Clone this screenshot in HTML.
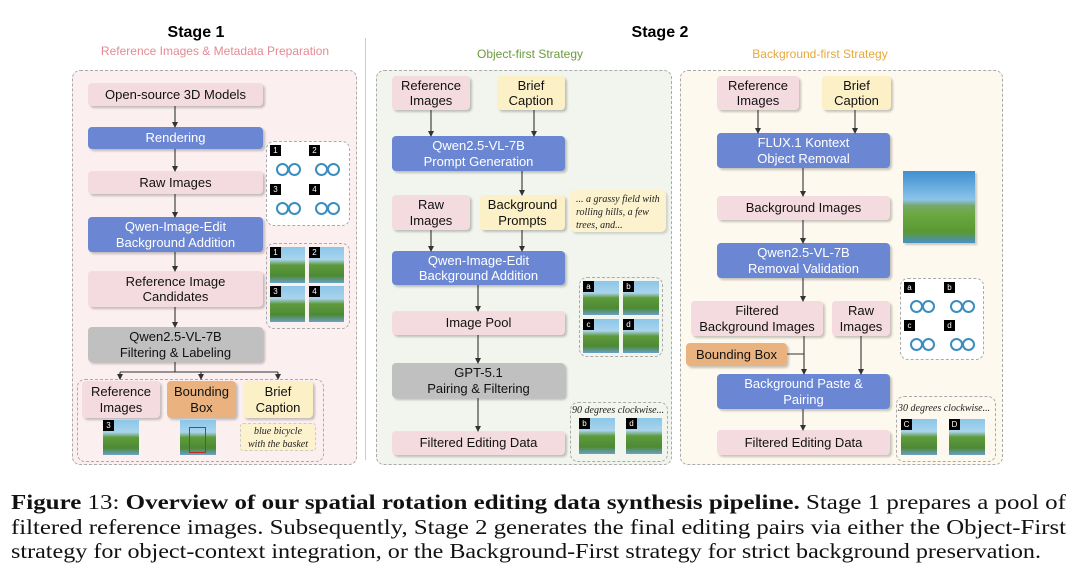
<!DOCTYPE html><html><head><meta charset="utf-8"><style>
body{margin:0;width:1080px;height:578px;background:#fff;position:relative;overflow:hidden;font-family:"Liberation Sans","DejaVu Sans",sans-serif}
.a{position:absolute}
.p{position:absolute;border:1.3px dashed #aaa;border-radius:8px}
.b{position:absolute;display:flex;align-items:center;justify-content:center;text-align:center;font-size:13px;line-height:15.5px;border-radius:4px;box-shadow:2px 2px 2px rgba(0,0,0,.22);color:#111;box-sizing:border-box}
.pk{background:#f4dbe0}.bl{background:#6b87d4;color:#fff}.gr{background:#c0c0c0}.ye{background:#fcf0c6}.or{background:#eab27f}
.t{position:absolute;text-align:center;font-weight:bold}
.im{position:absolute;background:linear-gradient(#8cc6e8 0%,#a9d4ec 35%,#5f9a3c 50%,#4c8a34 80%,#6aa0c8 100%)}
.wh{position:absolute;background:#fff}
.wh::before,.wh::after{content:"";position:absolute;top:18px;width:9px;height:9px;border:2px solid #3a8ec0;border-radius:50%}
.wh::before{left:6px}.wh::after{left:18px}
.lb{position:absolute;left:0;top:0;width:11px;height:11px;background:#000;color:#fff;font-size:8px;line-height:11px;text-align:center;z-index:2}
.note{position:absolute;font-family:"Liberation Serif",serif;font-style:italic;font-size:10px;line-height:13px;color:#222}
</style></head><body>
<div class="t" style="left:96px;top:24px;width:200px;font-size:16px">Stage 1</div>
<div class="a" style="left:60px;top:44px;width:310px;text-align:center;font-size:12px;color:#e58a93">Reference Images &amp; Metadata Preparation</div>
<div class="t" style="left:560px;top:24px;width:200px;font-size:16px">Stage 2</div>
<div class="a" style="left:430px;top:47px;width:200px;text-align:center;font-size:12px;color:#6c9a3c">Object-first Strategy</div>
<div class="a" style="left:720px;top:47px;width:200px;text-align:center;font-size:12px;color:#e8a838">Background-first Strategy</div>
<div class="a" style="left:365px;top:38px;width:1px;height:422px;background:#ccc"></div>

<div class="p" style="left:72px;top:70px;width:283px;height:393px;background:#fbeff0"></div>
<div class="p" style="left:376px;top:70px;width:294px;height:393px;background:#f2f5ee"></div>
<div class="p" style="left:680px;top:70px;width:321px;height:393px;background:#fdf9ee"></div>
<div class="p" style="left:77px;top:379px;width:245px;height:81px;border-radius:8px"></div>

<div class="b pk" style="left:88px;top:83px;width:175px;height:23px">Open-source 3D Models</div>
<div class="b bl" style="left:88px;top:127px;width:175px;height:22px">Rendering</div>
<div class="b pk" style="left:88px;top:171px;width:175px;height:23px">Raw Images</div>
<div class="b bl" style="left:88px;top:217px;width:175px;height:35px">Qwen-Image-Edit<br>Background Addition</div>
<div class="b pk" style="left:88px;top:271px;width:175px;height:36px">Reference Image<br>Candidates</div>
<div class="b gr" style="left:88px;top:327px;width:175px;height:35px">Qwen2.5-VL-7B<br>Filtering &amp; Labeling</div>
<div class="b pk" style="left:82px;top:381px;width:78px;height:37px">Reference<br>Images</div>
<div class="b or" style="left:167px;top:381px;width:69px;height:37px">Bounding<br>Box</div>
<div class="b ye" style="left:243px;top:381px;width:70px;height:37px">Brief<br>Caption</div>
<div class="im" style="left:103px;top:420px;width:36px;height:35px"><div class="lb">3</div></div>
<div class="im" style="left:180px;top:420px;width:36px;height:35px"><div class="a" style="left:9px;top:7px;width:15px;height:24px;border:1.5px solid #c22"></div></div>
<div class="note" style="left:240px;top:423px;width:76px;height:28px;background:#fcf2cd;border:1px dashed #ccc;text-align:center;border-radius:3px;padding-top:1px;box-sizing:border-box">blue bicycle<br>with the basket</div>
<div class="p" style="left:266px;top:141px;width:82px;height:83px;background:#fff"></div>
<div class="wh" style="left:270px;top:145px;width:35px;height:35px"><div class="lb">1</div></div>
<div class="wh" style="left:309px;top:145px;width:35px;height:35px"><div class="lb">2</div></div>
<div class="wh" style="left:270px;top:184px;width:35px;height:35px"><div class="lb">3</div></div>
<div class="wh" style="left:309px;top:184px;width:35px;height:35px"><div class="lb">4</div></div>
<div class="p" style="left:266px;top:243px;width:82px;height:84px"></div>
<div class="im" style="left:270px;top:247px;width:35px;height:36px"><div class="lb">1</div></div>
<div class="im" style="left:309px;top:247px;width:35px;height:36px"><div class="lb">2</div></div>
<div class="im" style="left:270px;top:286px;width:35px;height:36px"><div class="lb">3</div></div>
<div class="im" style="left:309px;top:286px;width:35px;height:36px"><div class="lb">4</div></div>

<div class="b pk" style="left:392px;top:76px;width:78px;height:34px">Reference<br>Images</div>
<div class="b ye" style="left:497px;top:76px;width:68px;height:34px">Brief<br>Caption</div>
<div class="b bl" style="left:392px;top:136px;width:173px;height:35px">Qwen2.5-VL-7B<br>Prompt Generation</div>
<div class="b pk" style="left:392px;top:195px;width:78px;height:35px">Raw<br>Images</div>
<div class="b ye" style="left:480px;top:195px;width:85px;height:35px">Background<br>Prompts</div>
<div class="note" style="left:570px;top:190px;width:96px;height:42px;background:#fcf2cd;border-radius:5px;box-shadow:2px 2px 2px rgba(0,0,0,.15);padding:3px 6px;box-sizing:border-box">... a grassy field with rolling hills, a few trees, and...</div>
<div class="b bl" style="left:392px;top:251px;width:173px;height:34px">Qwen-Image-Edit<br>Background Addition</div>
<div class="b pk" style="left:392px;top:311px;width:173px;height:24px">Image Pool</div>
<div class="b gr" style="left:392px;top:363px;width:173px;height:35px">GPT-5.1<br>Pairing &amp; Filtering</div>
<div class="b pk" style="left:392px;top:431px;width:173px;height:24px">Filtered Editing Data</div>
<div class="p" style="left:579px;top:277px;width:82px;height:78px"></div>
<div class="im" style="left:583px;top:281px;width:36px;height:34px"><div class="lb">a</div></div>
<div class="im" style="left:623px;top:281px;width:36px;height:34px"><div class="lb">b</div></div>
<div class="im" style="left:583px;top:319px;width:36px;height:34px"><div class="lb">c</div></div>
<div class="im" style="left:623px;top:319px;width:36px;height:34px"><div class="lb">d</div></div>
<div class="p" style="left:570px;top:402px;width:96px;height:58px"></div>
<div class="note" style="left:572px;top:404px;width:94px">90 degrees clockwise...</div>
<div class="im" style="left:579px;top:418px;width:36px;height:36px"><div class="lb">b</div></div>
<div class="im" style="left:626px;top:418px;width:36px;height:36px"><div class="lb">d</div></div>

<div class="b pk" style="left:717px;top:76px;width:82px;height:34px">Reference<br>Images</div>
<div class="b ye" style="left:822px;top:76px;width:69px;height:34px">Brief<br>Caption</div>
<div class="b bl" style="left:717px;top:133px;width:173px;height:35px">FLUX.1 Kontext<br>Object Removal</div>
<div class="b pk" style="left:717px;top:196px;width:173px;height:24px">Background Images</div>
<div class="im" style="left:903px;top:171px;width:72px;height:72px;box-shadow:2px 2px 2px rgba(0,0,0,.2);background:linear-gradient(#3f8fd0 0%,#8cc4ea 40%,#78a86a 48%,#6aa840 60%,#5a9834 85%,#4a90c8 100%)"></div>
<div class="b bl" style="left:717px;top:243px;width:173px;height:35px">Qwen2.5-VL-7B<br>Removal Validation</div>
<div class="b pk" style="left:691px;top:301px;width:132px;height:35px">Filtered<br>Background Images</div>
<div class="b pk" style="left:832px;top:301px;width:58px;height:35px">Raw<br>Images</div>
<div class="b or" style="left:686px;top:343px;width:101px;height:23px">Bounding Box</div>
<div class="b bl" style="left:717px;top:374px;width:173px;height:35px">Background Paste &amp;<br>Pairing</div>
<div class="b pk" style="left:717px;top:430px;width:173px;height:25px">Filtered Editing Data</div>
<div class="p" style="left:900px;top:278px;width:82px;height:80px;background:#fff"></div>
<div class="wh" style="left:904px;top:282px;width:35px;height:35px"><div class="lb">a</div></div>
<div class="wh" style="left:944px;top:282px;width:35px;height:35px"><div class="lb">b</div></div>
<div class="wh" style="left:904px;top:320px;width:35px;height:35px"><div class="lb">c</div></div>
<div class="wh" style="left:944px;top:320px;width:35px;height:35px"><div class="lb">d</div></div>
<div class="p" style="left:896px;top:396px;width:98px;height:64px"></div>
<div class="note" style="left:898px;top:402px;width:96px">30 degrees clockwise...</div>
<div class="im" style="left:901px;top:419px;width:36px;height:36px"><div class="lb">C</div></div>
<div class="im" style="left:949px;top:419px;width:36px;height:36px"><div class="lb">D</div></div>

<svg class="a" style="left:0;top:0" width="1080" height="578">
<defs><marker id="m" markerWidth="6" markerHeight="6" refX="5" refY="3" orient="auto" markerUnits="userSpaceOnUse"><path d="M0,0L6,3L0,6z" fill="#333"/></marker></defs>
<g stroke="#333" stroke-width="1.1" fill="none" marker-end="url(#m)">
<path d="M175,106V127"/><path d="M175,149V171"/><path d="M175,194V217"/><path d="M175,252V271"/><path d="M175,307V327"/>
<path d="M120,372V379"/><path d="M201,372V379"/><path d="M278,372V379"/>
<path d="M431,110V136"/><path d="M534,110V136"/><path d="M522,171V195"/><path d="M431,230V251"/><path d="M522,230V251"/><path d="M478,285V311"/><path d="M478,335V363"/><path d="M478,398V431"/>
<path d="M758,110V133"/><path d="M855,110V133"/><path d="M803,168V196"/><path d="M803,220V243"/><path d="M803,278V301"/><path d="M804,336V374"/><path d="M861,336V374"/><path d="M803,409V430"/>
</g>
<g stroke="#333" stroke-width="1.1"><path d="M175,362V372M120,372H278"/><path d="M787,354H804"/></g>
<g font-family="Liberation Serif,serif" font-size="21" fill="#111">
<text x="11" y="509" textLength="1055" lengthAdjust="spacingAndGlyphs"><tspan font-weight="bold">Figure</tspan> 13: <tspan font-weight="bold">Overview of our spatial rotation editing data synthesis pipeline.</tspan> Stage 1 prepares a pool of</text>
<text x="11" y="534" textLength="1055" lengthAdjust="spacingAndGlyphs">filtered reference images. Subsequently, Stage 2 generates the final editing pairs via either the Object-First</text>
<text x="11" y="558" textLength="1030" lengthAdjust="spacingAndGlyphs">strategy for object-context integration, or the Background-First strategy for strict background preservation.</text>
</g>
</svg>
</body></html>
